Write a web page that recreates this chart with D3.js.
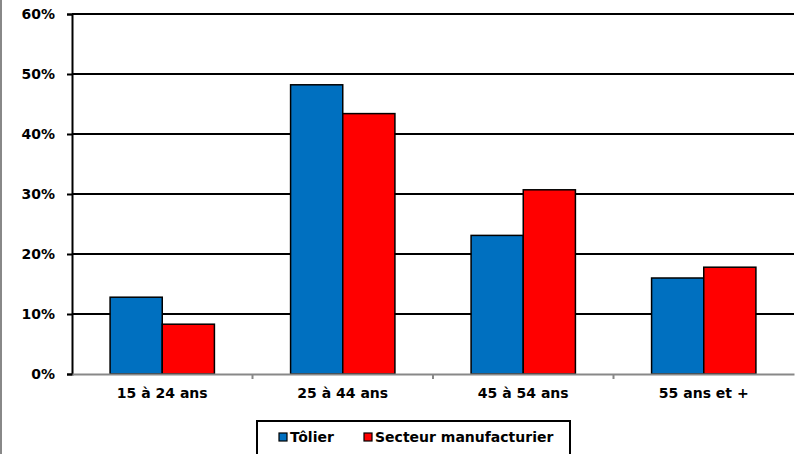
<!DOCTYPE html>
<html>
<head>
<meta charset="utf-8">
<script src="https://cdn.jsdelivr.net/npm/d3@7"></script>
<style>
  body { margin: 0; background: #fff; }
  svg { display: block; }
  text { font-family: "DejaVu Sans", Verdana, sans-serif; font-weight: bold; font-size: 14px; fill: #000; }
</style>
</head>
<body>
<svg id="chart"></svg>
<script>
// data
const categories = ["15 à 24 ans", "25 à 44 ans", "45 à 54 ans", "55 ans et +"];
const seriesNames = ["Tôlier", "Secteur manufacturier"];
const tolier = [12.8, 48.2, 23.1, 16.0];
const secteur = [8.3, 43.4, 30.7, 17.8];
const yTicks = [0, 10, 20, 30, 40, 50, 60];
const colors = ["#0070c0", "#ff0000"];

const width = 795, height = 454;
const margin = { top: 14, right: 1, bottom: 80, left: 72 };
const plotW = width - margin.left - margin.right;
const plotH = height - margin.top - margin.bottom;

let svg = d3.select("#chart").attr("width", width).attr("height", height);

// left border of the chart area
svg.append("line")
    .attr("x1", 1).attr("x2", 1).attr("y1", 0).attr("y2", height)
    .attr("stroke", "#888").attr("stroke-width", 2);

let x0 = d3.scaleBand().domain(categories).range([0, plotW]).paddingInner(0).paddingOuter(0);
let x1 = d3.scaleBand().domain(seriesNames).range([0, x0.bandwidth()]).paddingInner(0).paddingOuter(0.73);
let y = d3.scaleLinear().domain([0, 60]).range([plotH, 0]);

let g = svg.append("g").attr("transform", "translate(" + margin.left + "," + margin.top + ")");

// gridlines
g.append("g").selectAll("line")
    .data(yTicks.filter(d => d > 0))
    .enter().append("line")
    .attr("x1", 0).attr("x2", plotW)
    .attr("y1", d => y(d)).attr("y2", d => y(d))
    .attr("stroke", "#000").attr("stroke-width", 2);

// bars
let rows = categories.map((c, i) => ({ cat: c, vals: [tolier[i], secteur[i]] }));
g.append("g").selectAll("g")
    .data(rows)
    .enter().append("g")
    .attr("transform", d => "translate(" + x0(d.cat) + ",0)")
    .selectAll("rect")
    .data(d => d.vals.map((v, j) => ({ name: seriesNames[j], v: v, j: j })))
    .enter().append("rect")
    .attr("x", d => x1(d.name))
    .attr("y", d => y(d.v))
    .attr("width", x1.bandwidth())
    .attr("height", d => y(0) - y(d.v))
    .attr("fill", d => colors[d.j])
    .attr("stroke", "#000").attr("stroke-width", 1.5);

// y axis
let yAxis = g.append("g")
    .call(d3.axisLeft(y).tickValues(yTicks).tickFormat(d => d + "%").tickSize(5).tickPadding(12));
yAxis.select(".domain").attr("stroke", "#000").attr("stroke-width", 2);
yAxis.selectAll(".tick line").attr("stroke", "#000").attr("stroke-width", 2);
yAxis.selectAll("text").attr("font-size", null).attr("font-family", null);

// x axis
let xAxis = g.append("g")
    .attr("transform", "translate(0," + plotH + ")")
    .call(d3.axisBottom(x0).tickSize(0).tickPadding(14));
xAxis.select(".domain").attr("stroke", "#888").attr("stroke-width", 2);
xAxis.selectAll("text").attr("font-size", null).attr("font-family", null);
g.append("g").attr("transform", "translate(0," + plotH + ")")
    .selectAll("line")
    .data(categories.slice(1))
    .enter().append("line")
    .attr("x1", d => x0(d)).attr("x2", d => x0(d))
    .attr("y1", 0).attr("y2", 5)
    .attr("stroke", "#888").attr("stroke-width", 2);

// legend
let legend = svg.append("g").attr("transform", "translate(257,421)");
legend.append("rect")
    .attr("x", 0).attr("y", 0).attr("width", 313).attr("height", 40)
    .attr("fill", "#fff").attr("stroke", "#000").attr("stroke-width", 2);
let legX = [22, 107];
seriesNames.forEach((s, i) => {
    legend.append("rect")
        .attr("x", legX[i]).attr("y", 12).attr("width", 8).attr("height", 8)
        .attr("fill", colors[i]).attr("stroke", "#000").attr("stroke-width", 1.2);
    legend.append("text")
        .attr("x", legX[i] + 11).attr("y", 21)
        .text(s);
});
</script>
</body>
</html>
